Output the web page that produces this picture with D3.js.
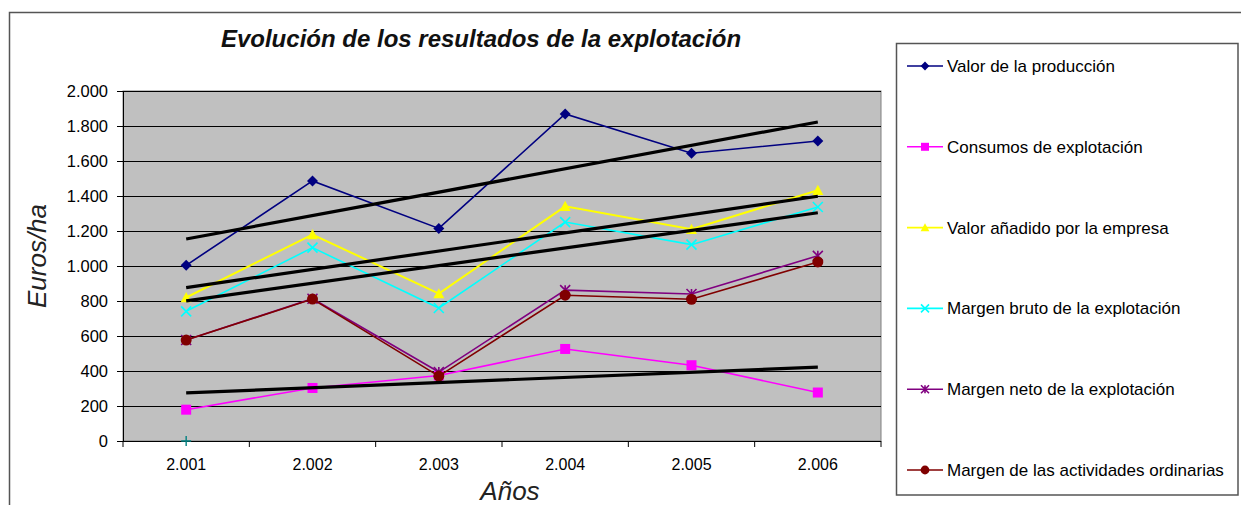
<!DOCTYPE html>
<html><head><meta charset="utf-8">
<script src="https://cdn.jsdelivr.net/npm/d3@7/dist/d3.min.js"></script>
<style>body{margin:0;background:#fff}svg{display:block;font-family:"Liberation Sans",Arial,sans-serif}</style>
</head><body><svg id="c" width="1241" height="505"></svg>
<script>
const years = ["2.001","2.002","2.003","2.004","2.005","2.006"];
const yTicks = [0,200,400,600,800,1000,1200,1400,1600,1800,2000];
const seriesNames = ["Valor de la producción","Consumos de explotación","Valor añadido por la empresa","Margen bruto de la explotación","Margen neto de la explotación","Margen de las actividades ordinarias"];
const valorProduccion = [1004,1486,1215,1869,1644,1714];
const consumos = [179,303,374,526,433,277];
const valorAnadido = [820,1180,842,1341,1210,1433];
const margenBruto = [741,1105,760,1251,1122,1337];
const margenNeto = [577,813,394,862,840,1058];
const margenOrdinarias = [577,811,371,833,810,1023];
const extraPoint = [0]; // stray teal "+" at 2.001
const colors = ["#000080","#FF00FF","#FFFF00","#00FFFF","#800080","#800000"];
const markers = ["diamond","square","triangle","x","star","circle"];
const trendFor = [0,1,2,3];

const allSeries = [valorProduccion,consumos,valorAnadido,margenBruto,margenNeto,margenOrdinarias];
const svg = d3.select("#c");
const L=123, T=91, R=881, B=441;

// outer frame
svg.append("rect").attr("x",9.5).attr("y",12.5).attr("width",1300).attr("height",600).attr("fill","none").attr("stroke","#555").attr("stroke-width",1.5);

const x = d3.scaleBand().domain(years).range([L,R]);
const y = d3.scaleLinear().domain([0,2000]).range([B,T]);
const cx = d => x(d)+x.bandwidth()/2;

svg.append("rect").attr("x",L).attr("y",T).attr("width",R-L).attr("height",B-T).attr("fill","#C0C0C0").attr("stroke","#808080").attr("stroke-width",1);

// gridlines
svg.append("g").selectAll("line").data(yTicks.filter(t=>t>0)).join("line")
  .attr("x1",L).attr("x2",R).attr("y1",d=>Math.round(y(d))+0.5).attr("y2",d=>Math.round(y(d))+0.5)
  .attr("stroke","#000").attr("stroke-width",1);

// axes
const ya = svg.append("g").attr("transform",`translate(${L},0)`)
  .call(d3.axisLeft(y).tickValues(yTicks).tickSize(6).tickPadding(9).tickFormat(d=>d3.format(",")(d).replace(/,/g,".")));
ya.selectAll("text").attr("font-size",16.5).attr("fill","#000").attr("font-family","Liberation Sans, Arial");
ya.selectAll("line,path").attr("stroke","#000");
ya.select("path").attr("d",`M0.5,${B}V${T}`);

const xa = svg.append("g").attr("transform",`translate(0,${B})`)
  .call(d3.axisBottom(x).tickSize(0).tickPadding(18));
xa.selectAll("text").attr("font-size",16).attr("fill","#000").attr("font-family","Liberation Sans, Arial");
xa.select("path").attr("stroke","#000").attr("d",`M${L},0.5H${R}`);
svg.append("g").selectAll("line").data(d3.range(years.length+1)).join("line")
  .attr("x1",i=>L+i*x.bandwidth()).attr("x2",i=>L+i*x.bandwidth()).attr("y1",B).attr("y2",B+6).attr("stroke","#000");

// markers
function marker(g, type, color, s){
  const m = g.append("g");
  if(type==="diamond") m.append("path").attr("d",`M0,${-s}L${s},0L0,${s}L${-s},0Z`).attr("fill",color);
  else if(type==="square") m.append("rect").attr("x",-s).attr("y",-s).attr("width",2*s).attr("height",2*s).attr("fill",color);
  else if(type==="triangle") m.append("path").attr("d",`M0,${-s}L${s},${s*0.85}L${-s},${s*0.85}Z`).attr("fill",color);
  else if(type==="circle") m.append("circle").attr("r",s).attr("fill",color);
  else if(type==="x") m.append("path").attr("d",`M${-s},${-s}L${s},${s}M${-s},${s}L${s},${-s}`).attr("stroke",color).attr("stroke-width",1.6);
  else if(type==="star") m.append("path").attr("d",`M${-s},${-s}L${s},${s}M${-s},${s}L${s},${-s}M0,${-s}V${s}`).attr("stroke",color).attr("stroke-width",1.6);
  else if(type==="plus") m.append("path").attr("d",`M${-s},0H${s}M0,${-s}V${s}`).attr("stroke",color).attr("stroke-width",1.4);
  return m;
}
const sizes = {diamond:5.5,square:5,triangle:5.5,x:5,star:5,circle:5.5};

const line = d3.line().x((d,i)=>cx(years[i])).y(d=>y(d));
allSeries.forEach((vals,k)=>{
  svg.append("path").attr("d",line(vals)).attr("fill","none").attr("stroke",colors[k]).attr("stroke-width",k===2?2:1.6);
  vals.forEach((v,i)=>marker(svg,markers[k],colors[k],sizes[markers[k]]).attr("transform",`translate(${cx(years[i])},${y(v)})`));
});
extraPoint.forEach((v,i)=>marker(svg,"plus","#008080",5).attr("transform",`translate(${cx(years[i])},${y(v)})`));

// linear trendlines (least squares, as the spreadsheet computes them)
trendFor.forEach(k=>{
  const vals = allSeries[k];
  const xs = vals.map((_,i)=>i+1);
  const mx = d3.mean(xs), my = d3.mean(vals);
  const slope = d3.sum(xs.map((xv,i)=>(xv-mx)*(vals[i]-my)))/d3.sum(xs.map(xv=>(xv-mx)**2));
  const icpt = my - slope*mx;
  const pts = xs.map(xv=>icpt+slope*xv);
  svg.append("line").attr("x1",cx(years[0])).attr("y1",y(pts[0])).attr("x2",cx(years[5])).attr("y2",y(pts[5]))
    .attr("stroke","#000").attr("stroke-width",3.2);
});

// title & axis titles
svg.append("text").attr("x",481).attr("y",47).attr("text-anchor","middle").attr("font-size",24).attr("font-weight","bold").attr("font-style","italic").attr("fill","#111").text("Evolución de los resultados de la explotación");
svg.append("text").attr("transform","translate(46,256) rotate(-90)").attr("text-anchor","middle").attr("font-size",26).attr("font-style","italic").attr("fill","#222").text("Euros/ha");
svg.append("text").attr("x",510).attr("y",500).attr("text-anchor","middle").attr("font-size",26).attr("font-style","italic").attr("fill","#222").text("Años");

// legend
svg.append("rect").attr("x",896.5).attr("y",43.5).attr("width",341.5).attr("height",451.5).attr("fill","#fff").attr("stroke","#555").attr("stroke-width",1.5);
seriesNames.forEach((n,k)=>{
  const ly = 66 + k*80.8;
  svg.append("line").attr("x1",907).attr("x2",943).attr("y1",ly).attr("y2",ly).attr("stroke",colors[k]).attr("stroke-width",1.6);
  marker(svg,markers[k],colors[k],sizes[markers[k]]*0.8).attr("transform",`translate(925,${ly})`);
  svg.append("text").attr("x",947).attr("y",ly).attr("dy","0.35em").attr("font-size",17).attr("fill","#000").text(n);
});
</script></body></html>
